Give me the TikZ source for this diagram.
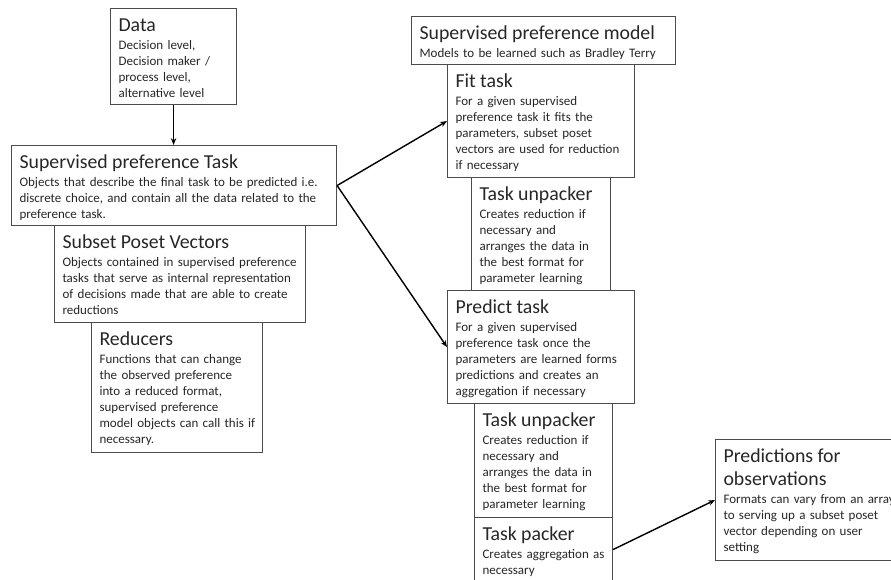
\documentclass[tikz,border=0pt]{standalone}
\usepackage{fontspec}
\setmainfont{Carlito}
\usetikzlibrary{arrows.meta}
\newcommand{\hd}{\fontsize{19.8}{23}\selectfont}

\begin{document}
\begin{tikzpicture}[x=1pt,y=-1pt,
 blk/.style={draw=black!70,line width=1.1pt,anchor=north west,inner xsep=8pt,inner ysep=0pt,align=left,text height=22.5pt,text=black!85,
  font=\fontsize{13}{16}\selectfont,execute at begin node={\rightskip=-30pt plus 1fil}},
 arr/.style={-{Stealth[length=2.4mm,width=1.9mm]},line width=1.4pt}]
\clip (0,0) rectangle (891,580);
% left column
\node[blk,text width=110pt,text depth=73.5pt] (data) at (110,8) {{\hd Data}\\[2.5pt]Decision level,\\Decision maker /\\process level,\\alternative level};
\node[blk,text width=309pt,text depth=57.5pt] (spt) at (11,145) {{\hd Supervised preference Task}\\[2.5pt]Objects that describe the final task to be predicted i.e.\\discrete choice, and contain all the data related to the\\preference task.};
\node[blk,text width=235pt,text depth=74.5pt] (spv) at (54,225) {{\hd Subset Poset Vectors}\\[2.5pt]Objects contained in supervised preference\\tasks that serve as internal representation\\of decisions made that are able to create\\reductions};
\node[blk,text width=155pt,text depth=107.5pt] (red) at (91,322) {{\hd Reducers}\\[2.5pt]Functions that can change\\the observed preference\\into a reduced format,\\supervised preference\\model objects can call this if\\necessary.};
% right column
\node[blk,text width=248pt,text depth=25.5pt] (spm) at (411,16) {{\hd Supervised preference model}\\[2.5pt]Models to be learned such as Bradley Terry};
\node[blk,text width=171pt,text depth=90.5pt] (fit) at (447,64) {{\hd Fit task}\\[2.5pt]For a given supervised\\preference task it fits the\\parameters, subset poset\\vectors are used for reduction\\if necessary};
\node[blk,text width=123pt,text depth=90.5pt] (tu1) at (471,177) {{\hd Task unpacker}\\[2.5pt]Creates reduction if\\necessary and\\arranges the data in\\the best format for\\parameter learning};
\node[blk,text width=171pt,text depth=90.5pt] (pred) at (447,290) {{\hd Predict task}\\[2.5pt]For a given supervised\\preference task once the\\parameters are learned forms\\predictions and creates an\\aggregation if necessary};
\node[blk,text width=122pt,text depth=91.5pt] (tu2) at (474,403) {{\hd Task unpacker}\\[2.5pt]Creates reduction if\\necessary and\\arranges the data in\\the best format for\\parameter learning};
\node[blk,text width=122pt,text depth=41.5pt] (tp) at (474,517) {{\hd Task packer}\\[2.5pt]Creates aggregation as\\necessary};
\node[blk,text width=174pt,text depth=98.5pt] (obs) at (715,439) {{\hd Predictions for}\\[7.3pt]{\hd observations}\\[2.5pt]Formats can vary from an array\\to serving up a subset poset\\vector depending on user\\setting};
% connectors
\draw[arr] (data.south) -- (data.south |- spt.north);
\draw[arr] (spt.east) -- (fit.west);
\draw[arr] (spt.east) -- (pred.west);
\draw[arr] (tp.east) -- (obs.west);
\end{tikzpicture}
\end{document}
